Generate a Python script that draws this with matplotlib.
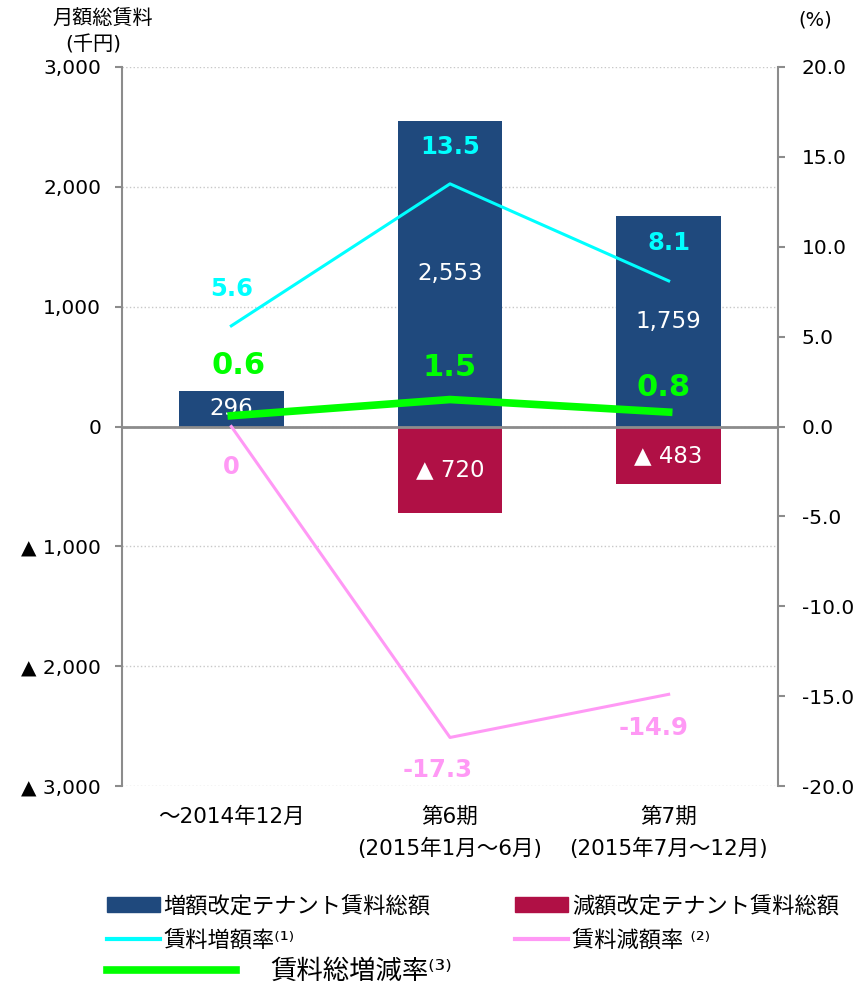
import numpy as np
import matplotlib
matplotlib.use('Agg')
import matplotlib.pyplot as plt
from matplotlib.ticker import FuncFormatter, MultipleLocator
from matplotlib.patches import Patch
from matplotlib.lines import Line2D

plt.rcParams['font.family'] = ['DejaVu Sans', 'Noto Sans CJK JP']

# data
categories = ['～2014年12月', '第6期\n(2015年1月～6月)', '第7期\n(2015年7月～12月)']
increase_total = [296, 2553, 1759]      # 千円
decrease_total = [0, -720, -483]        # 千円
increase_rate = [5.6, 13.5, 8.1]        # %
decrease_rate = [0, -17.3, -14.9]       # %
net_rate = [0.6, 1.5, 0.8]              # %

BLUE = '#1f497d'
RED = '#b01045'
CYAN = '#00ffff'
PINK = '#ff99f5'
GREEN = '#00ff00'
GRAY = '#8c8c8c'

# label offsets (pixels) for the rate annotations
cyan_off = [(0, 37), (0, 37), (0, 38)]
green_off = [(7, 50), (0, 32), (-5, 25)]
pink_off = [(0, -41), (-12, -33), (-15, -34)]


def left_fmt(v, pos):
    v = int(round(v))
    if v < 0:
        return f'▲ {abs(v):,}'
    return f'{v:,}'


fig = plt.figure(figsize=(8.61, 9.90), dpi=100)
ax = fig.add_axes([122 / 861, 1 - 786 / 990, 656 / 861, 719 / 990])
ax2 = ax.twinx()
x = np.arange(len(categories))

# bars
bars_up = ax.bar(x, increase_total, width=0.48, color=BLUE, zorder=2)
bars_dn = ax.bar(x, decrease_total, width=0.48, color=RED, zorder=2)
ax.bar_label(bars_up, labels=[f'{v:,}' for v in increase_total],
             label_type='center', color='white', fontsize=16.5)
ax.bar_label(bars_dn, labels=[f'▲ {abs(v):,}' if v else '' for v in decrease_total],
             label_type='center', color='white', fontsize=16.5)

ax.set_xlim(-0.5, len(categories) - 0.5)
ax.set_ylim(-3000, 3000)
ax.yaxis.set_major_locator(MultipleLocator(1000))
ax.yaxis.set_major_formatter(FuncFormatter(left_fmt))
ax.yaxis.grid(True, linestyle=':', color='#c8c8c8', linewidth=1.0)
ax.set_axisbelow(True)
ax.axhline(0, color=GRAY, linewidth=2, zorder=3)

ax.set_xticks(x)
ax.set_xticklabels(categories, fontsize=15.5, linespacing=1.6)
ax.tick_params(axis='x', length=0, pad=15)
ax.tick_params(axis='y', length=5, width=1.5, color=GRAY, labelsize=14.5, pad=10)

for s in ['top', 'bottom', 'right']:
    ax.spines[s].set_visible(False)
ax.spines['left'].set_color(GRAY)
ax.spines['left'].set_linewidth(1.5)

# rate lines (right axis)
ax2.plot(x, increase_rate, color=CYAN, linewidth=2.2)
ax2.plot(x, decrease_rate, color=PINK, linewidth=2.2)
ax2.plot(x, net_rate, color=GREEN, linewidth=5.5)
ax2.set_ylim(-20, 20)
ax2.yaxis.set_major_locator(MultipleLocator(5))
ax2.yaxis.set_major_formatter(FuncFormatter(lambda v, p: f'{v:.1f}'))
ax2.tick_params(axis='y', length=5, width=1.5, color=GRAY, labelsize=14.5, pad=12)
for s in ['top', 'bottom', 'left']:
    ax2.spines[s].set_visible(False)
ax2.spines['right'].set_color(GRAY)
ax2.spines['right'].set_linewidth(1.5)

for i in range(len(categories)):
    ax2.annotate(f'{increase_rate[i]:.1f}', (x[i], increase_rate[i]), xytext=cyan_off[i],
                 textcoords='offset pixels', ha='center', va='center',
                 color=CYAN, fontsize=17.5, fontweight='bold')
    ax2.annotate(f'{net_rate[i]:.1f}', (x[i], net_rate[i]), xytext=green_off[i],
                 textcoords='offset pixels', ha='center', va='center',
                 color=GREEN, fontsize=22, fontweight='bold')
    lbl = f'{decrease_rate[i]:.1f}' if decrease_rate[i] else '0'
    ax2.annotate(lbl, (x[i], decrease_rate[i]), xytext=pink_off[i],
                 textcoords='offset pixels', ha='center', va='center',
                 color=PINK, fontsize=17.5, fontweight='bold')

# axis titles
fig.text(103 / 861, 1 - 18 / 990, '月額総賃料', ha='center', va='center', fontsize=14.5)
fig.text(93 / 861, 1 - 45 / 990, '(千円)', ha='center', va='center', fontsize=14.5)
fig.text(815 / 861, 1 - 20 / 990, '(%)', ha='center', va='center', fontsize=14)

# legend
handles = [
    Patch(color=BLUE, label='増額改定テナント賃料総額'),
    Line2D([], [], color=CYAN, linewidth=3, label='賃料増額率⁽¹⁾'),
    Patch(color=RED, label='減額改定テナント賃料総額'),
    Line2D([], [], color=PINK, linewidth=3, label='賃料減額率 ⁽²⁾'),
]
fig.legend(handles=handles, ncol=2, loc='upper left', bbox_to_anchor=(107 / 861, 1 - 895 / 990),
           frameon=False, fontsize=16, handlelength=2.4, handleheight=0.65,
           handletextpad=0.15, columnspacing=3.8, labelspacing=0.55, borderpad=0, borderaxespad=0)
fig.legend(handles=[Line2D([], [], color=GREEN, linewidth=5.5, label='賃料総増減率⁽³⁾')],
           loc='center left', bbox_to_anchor=(107 / 861, 1 - 972 / 990),
           frameon=False, fontsize=19, handlelength=4.9, handletextpad=1.3,
           borderpad=0, borderaxespad=0)

fig.savefig('out.png', dpi=100)
